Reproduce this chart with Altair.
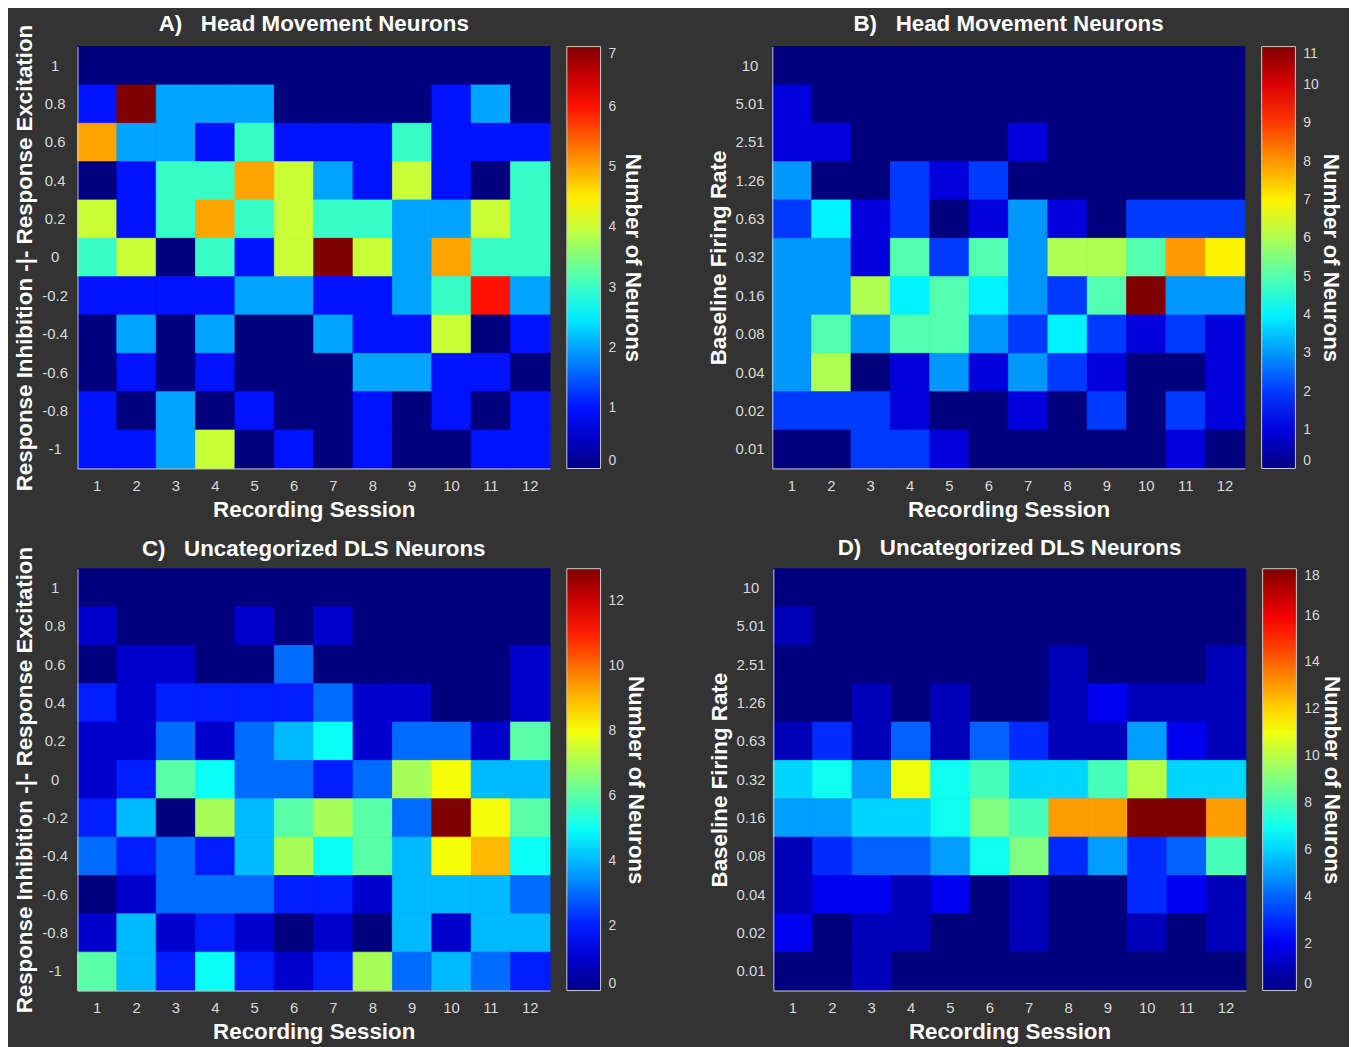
import altair as alt
import pandas as pd

sessions = list(range(1, 13))
resp_rows = ["1", "0.8", "0.6", "0.4", "0.2", "0", "-0.2", "-0.4", "-0.6", "-0.8", "-1"]
rate_rows = ["10", "5.01", "2.51", "1.26", "0.63", "0.32", "0.16", "0.08", "0.04", "0.02", "0.01"]

# Panel A: Head Movement Neurons, response index (rows top->bottom)
a_counts = [
    [0, 0, 0, 0, 0, 0, 0, 0, 0, 0, 0, 0],
    [1, 7, 2, 2, 2, 0, 0, 0, 0, 1, 2, 0],
    [5, 2, 2, 1, 3, 1, 1, 1, 3, 1, 1, 1],
    [0, 1, 3, 3, 5, 4, 2, 1, 4, 1, 0, 3],
    [4, 1, 3, 5, 3, 4, 3, 3, 2, 2, 4, 3],
    [3, 4, 0, 3, 1, 4, 7, 4, 2, 5, 3, 3],
    [1, 1, 1, 1, 2, 2, 1, 1, 2, 3, 6, 2],
    [0, 2, 0, 2, 0, 0, 2, 1, 1, 4, 0, 1],
    [0, 1, 0, 1, 0, 0, 0, 2, 2, 1, 1, 0],
    [1, 0, 2, 0, 1, 0, 0, 1, 0, 1, 0, 1],
    [1, 1, 2, 4, 0, 1, 0, 1, 0, 0, 1, 1],
]
# Panel B: Head Movement Neurons, baseline firing rate
b_counts = [
    [0, 0, 0, 0, 0, 0, 0, 0, 0, 0, 0, 0],
    [1, 0, 0, 0, 0, 0, 0, 0, 0, 0, 0, 0],
    [1, 1, 0, 0, 0, 0, 1, 0, 0, 0, 0, 0],
    [3, 0, 0, 2, 1, 2, 0, 0, 0, 0, 0, 0],
    [2, 4, 1, 2, 0, 1, 3, 1, 0, 2, 2, 2],
    [3, 3, 1, 5, 2, 5, 3, 6, 6, 5, 8, 7],
    [3, 3, 6, 4, 5, 4, 3, 2, 5, 11, 3, 3],
    [3, 5, 3, 5, 5, 3, 2, 4, 2, 1, 2, 1],
    [3, 6, 0, 1, 3, 1, 3, 2, 1, 0, 0, 1],
    [2, 2, 2, 1, 0, 0, 1, 0, 2, 0, 2, 1],
    [0, 0, 2, 2, 1, 0, 0, 0, 0, 0, 1, 0],
]
# Panel C: Uncategorized DLS Neurons, response index
c_counts = [
    [0, 0, 0, 0, 0, 0, 0, 0, 0, 0, 0, 0],
    [1, 0, 0, 0, 1, 0, 1, 0, 0, 0, 0, 0],
    [0, 1, 1, 0, 0, 3, 0, 0, 0, 0, 0, 1],
    [2, 1, 2, 2, 2, 2, 3, 1, 1, 0, 0, 1],
    [1, 1, 3, 1, 3, 4, 5, 1, 3, 3, 1, 6],
    [1, 2, 6, 5, 3, 3, 2, 3, 7, 8, 4, 4],
    [2, 4, 0, 7, 4, 6, 7, 6, 3, 13, 8, 6],
    [3, 2, 3, 2, 4, 7, 5, 6, 4, 8, 9, 5],
    [0, 1, 3, 3, 3, 2, 2, 1, 4, 4, 4, 3],
    [1, 4, 1, 2, 1, 0, 1, 0, 4, 1, 4, 4],
    [6, 4, 2, 5, 2, 1, 2, 7, 3, 4, 3, 2],
]
# Panel D: Uncategorized DLS Neurons, baseline firing rate
d_counts = [
    [0, 0, 0, 0, 0, 0, 0, 0, 0, 0, 0, 0],
    [1, 0, 0, 0, 0, 0, 0, 0, 0, 0, 0, 0],
    [0, 0, 0, 0, 0, 0, 0, 1, 0, 0, 0, 1],
    [0, 0, 1, 0, 1, 0, 0, 1, 2, 1, 1, 1],
    [1, 3, 1, 4, 1, 4, 3, 1, 1, 5, 2, 1],
    [6, 7, 5, 11, 7, 8, 6, 6, 8, 10, 6, 6],
    [5, 5, 6, 6, 7, 9, 8, 13, 13, 18, 18, 13],
    [1, 3, 4, 4, 5, 7, 9, 3, 5, 3, 4, 8],
    [1, 2, 2, 1, 2, 0, 1, 0, 0, 3, 2, 1],
    [2, 0, 1, 1, 0, 0, 1, 0, 0, 1, 0, 1],
    [0, 0, 1, 0, 0, 0, 0, 0, 0, 0, 0, 0],
]

a_max, b_max, c_max, d_max = 7, 11, 13, 18
a_ticks = [0, 1, 2, 3, 4, 5, 6, 7]
b_ticks = [0, 1, 2, 3, 4, 5, 6, 7, 8, 9, 10, 11]
c_ticks = [0, 2, 4, 6, 8, 10, 12]
d_ticks = [0, 2, 4, 6, 8, 10, 12, 14, 16, 18]

jet_colors = ["#00007F", "#0000FF", "#00FFFF", "#FFFF00", "#FF0000", "#7F0000"]
jet_stops = [0, 0.125, 0.375, 0.625, 0.875, 1.0]

NBSP = "\u00a0"
FONT = "Liberation Sans"
TITLE_SIZE = 22.5


def panel(counts, rows, maxv, ticks, title, ytitle, field, title_offset, legend_title_pad):
    recs = []
    for r, row in zip(rows, counts):
        for s, v in zip(sessions, row):
            recs.append({"row": r, "session": s, field: v, "edge_" + field: v})
    df = pd.DataFrame(recs)
    dom = [maxv * f for f in jet_stops]
    # edge scale: same colours, domain differs only by a negligible amount so that
    # Vega-Lite does not merge it into the colour-bar legend
    dom_edge = dom[:-1] + [maxv * 1.000001]
    return (
        alt.Chart(df, title=alt.Title(title, anchor="middle", frame="group", offset=title_offset))
        .mark_rect(strokeWidth=0.8)
        .encode(
            x=alt.X("session:O", axis=alt.Axis(title="Recording Session", labelAngle=0)),
            y=alt.Y("row:O", sort=rows, axis=alt.Axis(title=ytitle, labelAlign="center")),
            color=alt.Color(
                f"{field}:Q",
                scale=alt.Scale(domain=dom, range=jet_colors, interpolate="rgb"),
                legend=alt.Legend(
                    title="Number of Neurons",
                    values=ticks,
                    type="gradient",
                    labelOffset=8,
                    titlePadding=legend_title_pad,
                ),
            ),
            stroke=alt.Stroke(
                f"edge_{field}:Q",
                scale=alt.Scale(domain=dom_edge, range=jet_colors, interpolate="rgb"),
                legend=None,
            ),
        )
        .properties(width=476, height=425)
    )


A = panel(a_counts, resp_rows, a_max, a_ticks,
          "A)" + NBSP * 3 + "Head Movement Neurons",
          "Response Inhibition -|- Response Excitation", "nA", -11, 5)
B = panel(b_counts, rate_rows, b_max, b_ticks,
          "B)" + NBSP * 3 + "Head Movement Neurons",
          "Baseline Firing Rate", "nB", 11, 0)
C = panel(c_counts, resp_rows, c_max, c_ticks,
          "C)" + NBSP * 3 + "Uncategorized DLS Neurons",
          "Response Inhibition -|- Response Excitation", "nC", -14, 0)
D = panel(d_counts, rate_rows, d_max, d_ticks,
          "D)" + NBSP * 3 + "Uncategorized DLS Neurons",
          "Baseline Firing Rate", "nD", 9, 0)

top = alt.hconcat(A, B, spacing=61).resolve_scale(color="independent", stroke="independent")
bottom = alt.hconcat(C, D, spacing=59).resolve_scale(color="independent", stroke="independent")

chart = (
    alt.vconcat(top, bottom, spacing=15)
    .resolve_scale(color="independent", stroke="independent")
    .properties(padding={"left": 5, "top": 0, "right": 5, "bottom": 2})
    .configure(background="#333333", font=FONT)
    .configure_view(stroke="transparent")
    .configure_axis(
        labelColor="#d9d9d9",
        labelFont=FONT,
        labelFontSize=15,
        titleColor="#ffffff",
        titleFont=FONT,
        titleFontSize=TITLE_SIZE,
        titleFontWeight="bold",
        domainColor="#d0d0d0",
        domainWidth=1,
        ticks=False,
        grid=False,
    )
    .configure_axisX(labelPadding=10, titlePadding=5)
    .configure_axisY(labelPadding=23, titlePadding=5)
    .configure_legend(
        orient="right",
        offset=17,
        padding=0,
        gradientLength=425,
        gradientThickness=34,
        gradientStrokeColor="#cccccc",
        gradientStrokeWidth=1,
        labelColor="#d9d9d9",
        labelFont=FONT,
        labelFontSize=14,
        titleOrient="right",
        titleAnchor="middle",
        titleColor="#ffffff",
        titleFont=FONT,
        titleFontSize=TITLE_SIZE,
        titleFontWeight="bold",
        titleLimit=1000,
    )
    .configure_title(
        color="#ffffff",
        font=FONT,
        fontSize=TITLE_SIZE,
        fontWeight="bold",
    )
)

chart.save("out.html", embed_options={"renderer": "svg", "actions": False})
